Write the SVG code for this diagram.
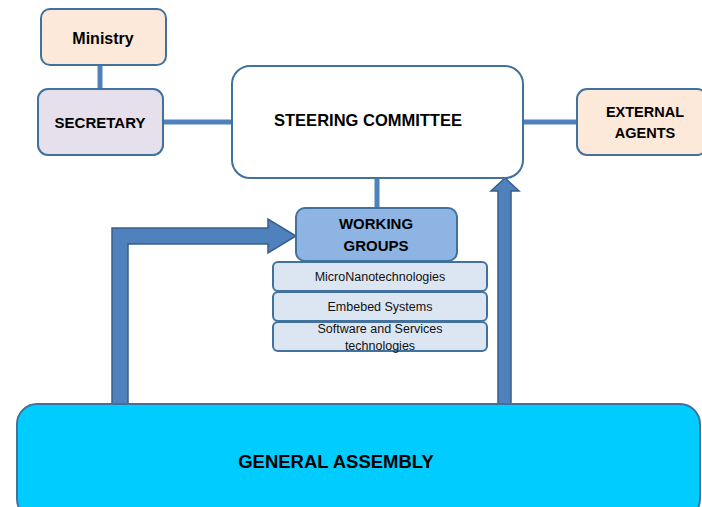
<svg xmlns="http://www.w3.org/2000/svg" width="702" height="507" viewBox="0 0 702 507">
<style>
.box{stroke:#41719c;stroke-width:2}
.t{font-family:"Liberation Sans",Arial,sans-serif;font-weight:bold;fill:#000;text-anchor:middle}
.s{font-family:"Liberation Sans",Arial,sans-serif;fill:#111;text-anchor:middle;font-size:12.5px}
.ln{stroke:#4f81bd;stroke-width:5;fill:none}
.ar{fill:#4f81bd;stroke:#385d8a;stroke-width:1.5}
</style>
<rect width="702" height="507" fill="#fff"/>
<g id="connectors">
<line class="ln" x1="100" y1="65" x2="100" y2="90"/>
<line class="ln" x1="162" y1="122" x2="232" y2="122"/>
<line class="ln" x1="522" y1="122" x2="578" y2="122"/>
<line class="ln" x1="377" y1="177" x2="377" y2="209"/>
<path class="ar" d="M112,406 L112,228 L268,228 L268,219 L296,236 L268,253 L268,244 L128,244 L128,406 Z"/>
<path class="ar" d="M498,406 L498,191 L491,191 L505,178 L519,191 L511,191 L511,406 Z"/>
</g>
<g id="ministry">
<rect class="box" x="41" y="9" width="125" height="56" rx="9" fill="#fde9d9"/>
<text class="t" x="103" y="43.5" font-size="16">Ministry</text>
</g>
<g id="secretary">
<rect class="box" x="38" y="89" width="125" height="66" rx="10" fill="#e5e0ec"/>
<text class="t" x="100" y="127.5" font-size="15">SECRETARY</text>
</g>
<g id="steering">
<rect class="box" x="232" y="66" width="291" height="112" rx="18" fill="#fff"/>
<text class="t" x="368" y="126" font-size="16.5">STEERING COMMITTEE</text>
</g>
<g id="external">
<rect class="box" x="577" y="89" width="130" height="66" rx="10" fill="#fde9d9"/>
<text class="t" x="645" y="117" font-size="14.5">EXTERNAL</text>
<text class="t" x="645" y="138" font-size="14.5">AGENTS</text>
</g>
<g id="working-groups">
<rect class="box" x="296" y="208" width="161" height="53" rx="9" fill="#8eb4e3"/>
<text class="t" x="376" y="229" font-size="15">WORKING</text>
<text class="t" x="376" y="251" font-size="15">GROUPS</text>
</g>
<g id="wg-micronano">
<rect class="box" x="273" y="262" width="214" height="29" rx="5" fill="#dce6f2"/>
<text class="s" x="380" y="280.5">MicroNanotechnologies</text>
</g>
<g id="wg-embedded">
<rect class="box" x="273" y="292" width="214" height="29" rx="5" fill="#dce6f2"/>
<text class="s" x="380" y="310.5">Embebed Systems</text>
</g>
<g id="wg-software">
<rect class="box" x="273" y="322" width="214" height="29" rx="5" fill="#dce6f2"/>
<text class="s" x="380" y="332.5">Software and Services</text>
<text class="s" x="380" y="349.5">technologies</text>
</g>
<g id="general-assembly">
<rect class="box" x="17" y="404" width="683" height="115" rx="20" fill="#00ccff"/>
<text class="t" x="336" y="468" font-size="18.5">GENERAL ASSEMBLY</text>
</g>
</svg>
